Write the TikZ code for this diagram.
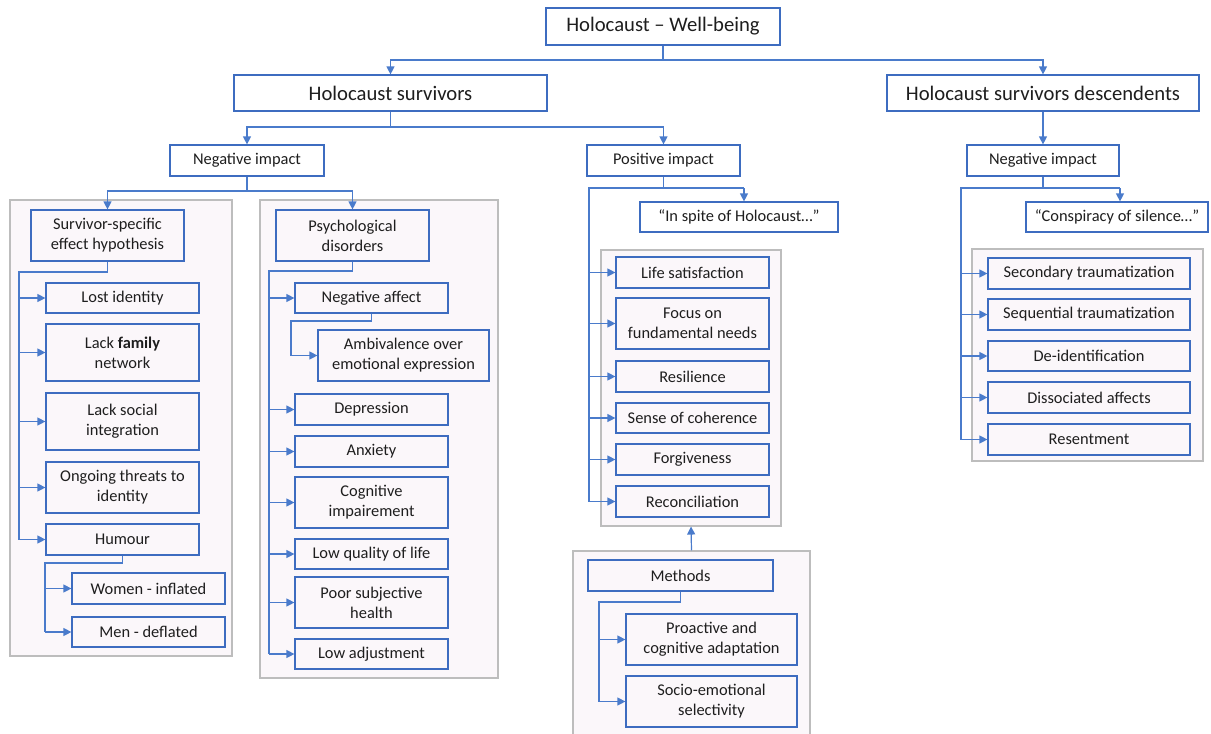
\documentclass[tikz,border=0pt]{standalone}
\usepackage{fontspec}
\setmainfont{Carlito}
\usetikzlibrary{arrows.meta}
\definecolor{boxblue}{HTML}{3D6CC0}
\definecolor{lineblue}{HTML}{4A7BCB}
\definecolor{txt}{HTML}{1E1E1E}
\definecolor{panelgray}{HTML}{BDBDBD}
\definecolor{pinkbg}{HTML}{FBF7FA}
\begin{document}
\begin{tikzpicture}[x=0.75pt,y=-0.75pt,
  wh/.style 2 args={minimum width=#1*0.75pt, minimum height=#2*0.75pt},
  box/.style={draw=boxblue, line width=0.9pt, fill=white, align=center, text=txt,
    inner sep=0pt, font=\fontsize{12.3}{15}\selectfont},
  ibox/.style={box, fill=pinkbg},
  bigbox/.style={box, font=\fontsize{15.5}{18}\selectfont},
  panel/.style={draw=panelgray, line width=0.8pt, fill=pinkbg, inner sep=0pt},
  link/.style={draw=lineblue, line width=0.9pt},
  arr/.style={link, -{Triangle[length=6pt,width=6pt]}}]
\useasboundingbox (0,0) rectangle (1211,733);

% group panels
\node[panel, wh={222}{456}] (p1) at (121,428) {};
\node[panel, wh={238}{478}] (p2) at (379,439) {};
\node[panel, wh={180}{276}] (p3) at (691,388) {};
\node[panel, wh={237}{189}] (p4) at (691.5,645.5) {};
\node[panel, wh={231}{212}] (p5) at (1087.5,355) {};

% upper levels
\node[bigbox, wh={234}{37}] (top) at (663,26.5) {Holocaust -- Well-being};
\node[bigbox, wh={313}{36}] (hs) at (390.5,93) {Holocaust survivors};
\node[bigbox, wh={312}{36}] (hsd) at (1043,93) {Holocaust survivors descendents};
\node[box, wh={154}{31}] (neg1) at (247,160.5) {Negative impact};
\node[box, wh={153}{31}] (pos) at (663.5,160.5) {Positive impact};
\node[box, wh={152}{31}] (neg2) at (1043,160.5) {Negative impact};
\node[box, wh={198}{30}] (spite) at (739,217) {``In spite of Holocaust\ldots''};
\node[box, wh={182}{30}] (consp) at (1117,217) {``Conspiracy of silence\ldots''};

% survivor-specific effect hypothesis
\node[ibox, wh={153}{51}] (ssh) at (107.5,235.5) {Survivor-specific\\effect hypothesis};
\node[ibox, wh={153}{30}] (lost) at (122.5,298) {Lost identity};
\node[ibox, wh={153}{57}] (lfam) at (122.5,352.5) {Lack \textbf{family}\\network};
\node[ibox, wh={153}{57}] (lsoc) at (122.5,421.5) {Lack social\\integration};
\node[ibox, wh={153}{51}] (ongo) at (122.5,487.5) {Ongoing threats to\\identity};
\node[ibox, wh={153}{31}] (hum) at (122.5,539.5) {Humour};
\node[ibox, wh={153}{31}] (women) at (148.5,588.5) {Women - inflated};
\node[ibox, wh={153}{30}] (men) at (148.5,632) {Men - deflated};

% psychological disorders
\node[ibox, wh={153}{51}] (psy) at (352.5,235.5) {Psychological\\disorders};
\node[ibox, wh={153}{30}] (negaff) at (371.5,298) {Negative affect};
\node[ibox, wh={171}{51}] (amb) at (403.5,355.5) {Ambivalence over\\emotional expression};
\node[ibox, wh={153}{31}] (dep) at (371.5,409.5) {Depression};
\node[ibox, wh={153}{31}] (anx) at (371.5,451.5) {Anxiety};
\node[ibox, wh={153}{51}] (cog) at (371.5,502.5) {Cognitive\\impairement};
\node[ibox, wh={153}{30}] (lql) at (371.5,554) {Low quality of life};
\node[ibox, wh={153}{51}] (psh) at (371.5,602.5) {Poor subjective\\health};
\node[ibox, wh={153}{30}] (ladj) at (371.5,654) {Low adjustment};

% positive outcomes
\node[ibox, wh={153}{31}] (lifes) at (692.5,272.5) {Life satisfaction};
\node[ibox, wh={153}{51}] (focus) at (692.5,323.5) {Focus on\\fundamental needs};
\node[ibox, wh={153}{31}] (resil) at (692.5,376.5) {Resilience};
\node[ibox, wh={153}{30}] (coher) at (692.5,418) {Sense of coherence};
\node[ibox, wh={153}{31}] (forg) at (692.5,459.5) {Forgiveness};
\node[ibox, wh={153}{31}] (recon) at (692.5,501.5) {Reconciliation};

% methods
\node[ibox, wh={185}{31}] (meth) at (680.5,575.5) {Methods};
\node[ibox, wh={171}{51}] (proact) at (711.5,639.5) {Proactive and\\cognitive adaptation};
\node[ibox, wh={171}{51}] (socio) at (711.5,701.5) {Socio-emotional\\selectivity};

% descendants
\node[ibox, wh={202}{31}] (sec) at (1089,273.5) {Secondary traumatization};
\node[ibox, wh={202}{31}] (seq) at (1089,314.5) {Sequential traumatization};
\node[ibox, wh={202}{30}] (deid) at (1089,356) {De-identification};
\node[ibox, wh={202}{31}] (diss) at (1089,397.5) {Dissociated affects};
\node[ibox, wh={202}{31}] (res) at (1089,439.5) {Resentment};

% ---- connectors ----
\coordinate (j0) at (663,60);
\draw[link] (top.south) -- (j0);
\draw[arr] (j0) -| (hs.north);
\draw[arr] (j0) -| (hsd.north);

\coordinate (j1) at (390.5,127);
\draw[link] (hs.south) -- (j1);
\draw[arr] (j1) -| (neg1.north);
\draw[arr] (j1) -| (pos.north);
\draw[arr] (hsd.south) -- (neg2.north);

\coordinate (j2) at (247,191);
\draw[link] (neg1.south) -- (j2);
\draw[arr] (j2) -| (ssh.north);
\draw[arr] (j2) -| (psy.north);

% survivor-specific trunk
\coordinate (t1) at (19,272);
\draw[link] (ssh.south) |- (t1) -- (t1 |- hum.west);
\foreach \n in {lost,lfam,lsoc,ongo,hum}
  \draw[arr] (t1 |- \n.west) -- (\n.west);
\coordinate (t2) at (45,563);
\draw[link] (hum.south) |- (t2) -- (t2 |- men.west);
\foreach \n in {women,men}
  \draw[arr] (t2 |- \n.west) -- (\n.west);

% psychological disorders trunk
\coordinate (t3) at (269,271);
\draw[link] (psy.south) |- (t3) -- (t3 |- ladj.west);
\foreach \n in {negaff,dep,anx,cog,lql,psh,ladj}
  \draw[arr] (t3 |- \n.west) -- (\n.west);
\coordinate (t4) at (291,321);
\draw[link] (negaff.south) |- (t4) -- (t4 |- amb.west);
\draw[arr] (t4 |- amb.west) -- (amb.west);

% positive impact trunk
\coordinate (t5) at (589,188);
\coordinate (t5r) at (744,188);
\draw[link] (pos.south) |- (t5) -- (t5 |- recon.west);
\draw[link] (pos.south |- t5) -- (t5r);
\draw[arr] (t5r) -- (t5r |- spite.north);
\foreach \n in {lifes,focus,resil,coher,forg,recon}
  \draw[arr] (t5 |- \n.west) -- (\n.west);
\draw[arr] (p4.north) -- (p3.south);

% methods trunk
\coordinate (t6) at (599,602);
\draw[link] (meth.south) |- (t6) -- (t6 |- socio.west);
\foreach \n in {proact,socio}
  \draw[arr] (t6 |- \n.west) -- (\n.west);

% descendants trunk
\coordinate (t7) at (961,188);
\coordinate (t7r) at (1120,188);
\draw[link] (neg2.south) |- (t7) -- (t7 |- res.west);
\draw[link] (neg2.south |- t7) -- (t7r);
\draw[arr] (t7r) -- (t7r |- consp.north);
\foreach \n in {sec,seq,deid,diss,res}
  \draw[arr] (t7 |- \n.west) -- (\n.west);
\end{tikzpicture}
\end{document}
